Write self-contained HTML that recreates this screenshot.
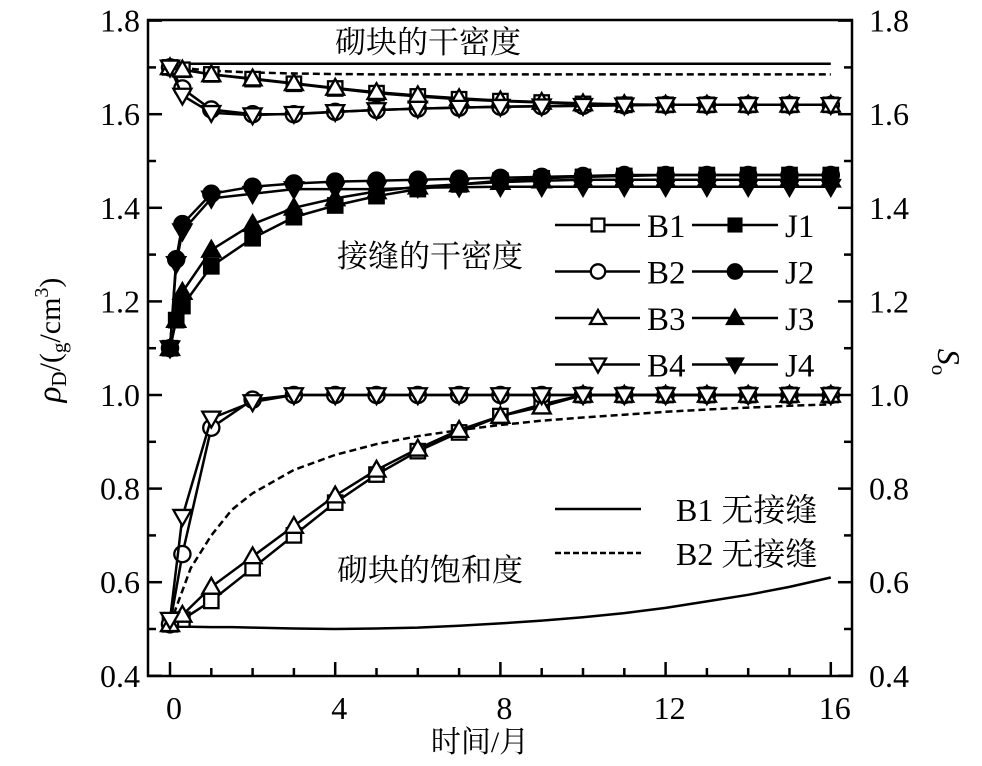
<!DOCTYPE html>
<html><head><meta charset="utf-8"><style>
body{margin:0;background:#fff}
svg{display:block}
text{font-family:"Liberation Serif","Noto Serif CJK SC","Noto Sans CJK SC",serif;fill:#000}
</style></head><body>
<svg id="chart" width="982" height="766" viewBox="0 0 982 766" xmlns="http://www.w3.org/2000/svg">
<g id="axes"></g>
<g id="refs"></g>
<g id="series"></g>
<g id="labels">
<text x="335" y="53" font-size="31">砌块的干密度</text>
<text x="337" y="267" font-size="31">接缝的干密度</text>
<text x="337" y="581" font-size="31">砌块的饱和度</text>
<text x="480" y="752" font-size="30" text-anchor="middle">时间/月</text>
<text transform="translate(60,340) rotate(-90)" font-size="30" text-anchor="middle"><tspan font-style="italic" font-size="33">ρ</tspan><tspan font-size="21" dy="6">D</tspan><tspan dy="-6">/(</tspan><tspan font-size="21" dy="6">g</tspan><tspan dy="-6">/cm</tspan><tspan font-size="20" dy="-12">3</tspan><tspan dy="12">)</tspan></text>
<text transform="translate(938,362) rotate(90)" font-size="32" text-anchor="middle"><tspan font-style="italic">S</tspan><tspan font-size="21" dy="6">o</tspan></text>
</g>
<g id="legend"></g>
</svg>
<script>
const months=[0,0.3,1,2,3,4,5,6,7,8,9,10,11,12,13,14,15,16];
const jMonths=[0,0.15,0.3,1,2,3,4,5,6,7,8,9,10,11,12,13,14,15,16];
// dry density of blocks
const B1dens=[1.70,1.695,1.685,1.675,1.665,1.655,1.645,1.638,1.632,1.628,1.625,1.622,1.62,1.62,1.62,1.62,1.62,1.62];
const B3dens=[1.70,1.695,1.685,1.676,1.666,1.656,1.647,1.64,1.634,1.629,1.626,1.623,1.621,1.62,1.62,1.62,1.62,1.62];
const B2dens=[1.70,1.655,1.61,1.60,1.60,1.605,1.609,1.612,1.614,1.616,1.617,1.618,1.619,1.62,1.62,1.62,1.62,1.62];
const B4dens=[1.70,1.64,1.603,1.598,1.601,1.605,1.609,1.612,1.614,1.616,1.617,1.618,1.619,1.62,1.62,1.62,1.62,1.62];
// saturation of blocks
const B1sat=[0.51,0.52,0.56,0.63,0.70,0.77,0.83,0.88,0.92,0.955,0.98,1.0,1.0,1.0,1.0,1.0,1.0,1.0];
const B3sat=[0.51,0.53,0.59,0.655,0.72,0.785,0.84,0.885,0.925,0.955,0.975,1.0,1.0,1.0,1.0,1.0,1.0,1.0];
const B2sat=[0.51,0.66,0.93,0.99,1.0,1.0,1.0,1.0,1.0,1.0,1.0,1.0,1.0,1.0,1.0,1.0,1.0,1.0];
const B4sat=[0.52,0.74,0.95,0.985,1.0,1.0,1.0,1.0,1.0,1.0,1.0,1.0,1.0,1.0,1.0,1.0,1.0,1.0];
// dry density of joints
const J1=[1.10,1.16,1.19,1.275,1.335,1.38,1.405,1.425,1.44,1.45,1.458,1.463,1.466,1.468,1.47,1.47,1.47,1.47,1.47];
const J2=[1.10,1.29,1.365,1.43,1.445,1.452,1.456,1.458,1.46,1.462,1.464,1.466,1.468,1.47,1.47,1.47,1.47,1.47,1.47];
const J3=[1.10,1.16,1.22,1.31,1.365,1.40,1.42,1.435,1.445,1.45,1.455,1.458,1.46,1.46,1.46,1.46,1.46,1.46,1.46];
const J4=[1.10,1.28,1.35,1.42,1.43,1.44,1.44,1.44,1.443,1.444,1.445,1.445,1.445,1.445,1.445,1.445,1.445,1.445,1.445];
// reference curves (no joint)
const refT=[0,0.5,1,1.5,2,3,4,5,6,7,8,9,10,11,12,13,14,15,16];
const refDensB1=[1.708,1.708,1.708,1.708,1.708,1.708,1.708,1.708,1.708,1.708,1.708,1.708,1.708,1.708,1.708,1.708,1.708,1.708,1.708];
const refDensB2=[1.70,1.697,1.693,1.691,1.689,1.687,1.686,1.685,1.685,1.685,1.685,1.685,1.685,1.685,1.685,1.685,1.685,1.685,1.685];
const refSatB1=[0.505,0.505,0.504,0.504,0.503,0.501,0.50,0.501,0.503,0.507,0.512,0.518,0.525,0.534,0.545,0.559,0.573,0.59,0.61];
const refSatB2=[0.51,0.63,0.70,0.755,0.79,0.84,0.872,0.895,0.912,0.925,0.936,0.945,0.952,0.958,0.964,0.969,0.973,0.977,0.98];
const yTicks=["0.4","0.6","0.8","1.0","1.2","1.4","1.6","1.8"];
const xTicks=["0","4","8","12","16"];

const NS="http://www.w3.org/2000/svg";
const X=t=>170+41.3*t;
const Y=v=>395-(v-1.0)*468;
const L=148,R=852,T=20,Bt=676;
function el(tag,attrs,parent){const e=document.createElementNS(NS,tag);for(const k in attrs)e.setAttribute(k,attrs[k]);parent.appendChild(e);return e;}
const axes=document.getElementById('axes');
const frame=el('rect',{x:L,y:T,width:R-L,height:Bt-T,fill:'none',stroke:'#000','stroke-width':2.5},axes);


for(let i=0;i<yTicks.length;i++){const v=parseFloat(yTicks[i]);const y=Y(v);
 [[L,L+14],[R,R-14]].forEach(p=>{const ln=el('line',{x1:p[0],x2:p[1],y1:y,y2:y,stroke:'#000','stroke-width':2.5},axes);
 
 });
 if(i<yTicks.length-1){const ym=Y(v+0.1);[[L,L+8],[R,R-8]].forEach(p=>{const ln=el('line',{x1:p[0],x2:p[1],y1:ym,y2:ym,stroke:'#000','stroke-width':2.5},axes);
 
 });}
 const tl=el('text',{x:L-8,y:y+11,'font-size':32,'text-anchor':'end'},axes);tl.textContent=yTicks[i];
 
 
 const tr=el('text',{x:R+17,y:y+11,'font-size':32},axes);tr.textContent=yTicks[i];
 
 
}
for(let m=0;m<=16;m++){const x=X(m);const major=m%4===0;
 const ln=el('line',{x1:x,x2:x,y1:Bt,y2:Bt-(major?14:8),stroke:'#000','stroke-width':2.5},axes);
 
 }
xTicks.forEach(s=>{const t=el('text',{x:X(parseFloat(s))+4,y:719,'font-size':32,'text-anchor':'middle'},axes);t.textContent=s;
 
 });

function pathD(xs,ys){return xs.map((t,i)=>(i?'L':'M')+X(t).toFixed(1)+','+Y(ys[i]).toFixed(1)).join(' ');}
const refs=document.getElementById('refs');
[[refDensB1,false,'ref-density-b1'],[refDensB2,true,'ref-density-b2'],[refSatB1,false,'ref-saturation-b1'],[refSatB2,true,'ref-saturation-b2']].forEach(r=>{
 const p=el('path',{d:pathD(refT,r[0]),fill:'none',stroke:'#000','stroke-width':2.5,'stroke-dasharray':r[1]?'7,4':'none'},refs);
 
 });

function marker(g,shape,filled,cx,cy,s){const a={fill:filled?'#000':'#fff',stroke:'#000','stroke-width':2.3};let m;
 if(shape==='sq')m=el('rect',Object.assign({x:cx-s*0.8,y:cy-s*0.8,width:s*1.6,height:s*1.6},a),g);
 else if(shape==='ci')m=el('circle',Object.assign({cx:cx,cy:cy,r:s*0.9},a),g);
 else if(shape==='up')m=el('polygon',Object.assign({points:`${cx},${cy-s} ${cx-s},${cy+s*0.75} ${cx+s},${cy+s*0.75}`},a),g);
 else m=el('polygon',Object.assign({points:`${cx},${cy+s} ${cx-s},${cy-s*0.75} ${cx+s},${cy-s*0.75}`},a),g);
 return m;}
const series=document.getElementById('series');
function drawSeries(name,xs,ys,shape,filled){const g=el('g',{},series);
 
 
 el('path',{d:pathD(xs,ys),fill:'none',stroke:'#000','stroke-width':2.5},g);
 xs.forEach((t,i)=>{const m=marker(g,shape,filled,X(t),Y(ys[i]),9);
 
 });}
drawSeries('b1-density',months,B1dens,'sq',false);
drawSeries('b2-density',months,B2dens,'ci',false);
drawSeries('b3-density',months,B3dens,'up',false);
drawSeries('b4-density',months,B4dens,'dn',false);
drawSeries('b1-saturation',months,B1sat,'sq',false);
drawSeries('b2-saturation',months,B2sat,'ci',false);
drawSeries('b3-saturation',months,B3sat,'up',false);
drawSeries('b4-saturation',months,B4sat,'dn',false);
drawSeries('j1-density',jMonths,J1,'sq',true);
drawSeries('j2-density',jMonths,J2,'ci',true);
drawSeries('j3-density',jMonths,J3,'up',true);
drawSeries('j4-density',jMonths,J4,'dn',true);

const legend=document.getElementById('legend');
const lrows=[['B1','J1','sq'],['B2','J2','ci'],['B3','J3','up'],['B4','J4','dn']];
lrows.forEach((r,i)=>{const y=225+i*46.5;
 [[555,640,598,647,r[0],false],[692,778,735,785,r[1],true]].forEach(c=>{const g=el('g',{},legend);
 
 
 el('line',{x1:c[0],x2:c[1],y1:y,y2:y,stroke:'#000','stroke-width':2.5},g);
 marker(g,r[2],c[5],c[2],y,8);
 const t=el('text',{x:c[3],y:y+12,'font-size':33},g);t.textContent=c[4];});});
[['B1 无接缝',false,509],['B2 无接缝',true,553]].forEach(r=>{const g=el('g',{},legend);
 
 
 el('line',{x1:555,x2:641,y1:r[2],y2:r[2],stroke:'#000','stroke-width':2.5,'stroke-dasharray':r[1]?'6,3':'none'},g);
 const t=el('text',{x:676,y:r[2]+12,'font-size':32},g);t.textContent=r[0];});
</script>
</body></html>
